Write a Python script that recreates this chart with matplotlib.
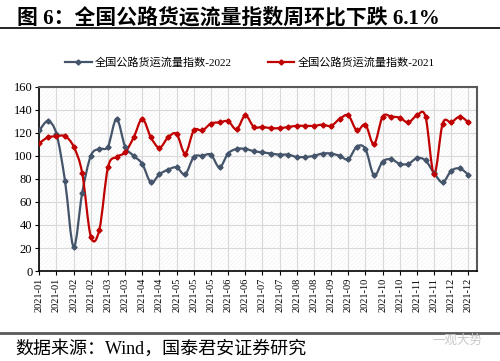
import numpy as np
import matplotlib
matplotlib.use('Agg')
import matplotlib.pyplot as plt
from matplotlib.path import Path
from matplotlib.patches import PathPatch, Rectangle
from matplotlib.lines import Line2D

plt.rcParams['font.family'] = ['Liberation Serif', 'Noto Sans CJK SC', 'DejaVu Sans']

# weekly index values
idx_2022 = [122, 130, 119, 78, 21, 68, 100, 106, 108, 132, 108, 100, 93, 77, 84,
            88, 90, 84, 99, 100, 101, 90, 102, 106, 106, 104, 103, 102, 101, 101,
            99, 99, 100, 102, 102, 100, 97, 108, 106, 83, 95, 97, 93, 93, 98,
            96, 85, 77, 87, 89, 83.6]
idx_2021 = [111, 116, 117, 117, 108, 85, 30, 36, 90, 99, 103, 116, 132, 116, 107,
            116, 119, 102, 122, 122, 128, 129, 130, 123, 135, 125, 125, 124, 124, 125,
            126, 126, 126, 127, 126, 132, 135, 122, 127, 110, 134, 134, 133, 129, 135,
            134, 84, 128, 129, 134, 129]
tick_labels = ['2021-01', '2021-01', '2021-02', '2021-02', '2021-03', '2021-03',
               '2021-04', '2021-04', '2021-05', '2021-05', '2021-05', '2021-06',
               '2021-06', '2021-07', '2021-07', '2021-08', '2021-08', '2021-09',
               '2021-09', '2021-10', '2021-10', '2021-10', '2021-11', '2021-11',
               '2021-12', '2021-12']
names = ['全国公路货运流量指数-2022', '全国公路货运流量指数-2021']
colors = ['#44546A', '#C00000']


def smooth_path(x, y):
    # excel-like smoothed line: cubic bezier through every point
    pts = np.column_stack([x, y]).astype(float)
    n = len(pts)
    verts = [pts[0]]
    codes = [Path.MOVETO]
    for i in range(n - 1):
        p0 = pts[max(i - 1, 0)]
        p1 = pts[i]
        p2 = pts[i + 1]
        p3 = pts[min(i + 2, n - 1)]
        verts += [p1 + (p2 - p0) / 6, p2 - (p3 - p1) / 6, p2]
        codes += [Path.CURVE4] * 3
    return Path(verts, codes)


fig = plt.figure(figsize=(5, 3.61), dpi=100)
ax = fig.add_axes([0.0786, 0.249, 0.8754, 0.511])

x = np.arange(len(idx_2022))
handles = []
for vals, col, name in zip([idx_2022, idx_2021], colors, names):
    ax.add_patch(PathPatch(smooth_path(x, vals), facecolor='none', edgecolor=col,
                           lw=1.6, zorder=3, capstyle='round', joinstyle='round'))
    ax.plot(x, vals, ls='none', marker='D', ms=2.6, color=col, zorder=4)
    handles.append(Line2D([], [], color=col, lw=1.6, marker='D', ms=2.6))

# hatched plot background
plt.rcParams['hatch.linewidth'] = 0.5
ax.add_patch(Rectangle((0, 0), 1, 1, transform=ax.transAxes, facecolor='white',
                       edgecolor='#F2F2F2', hatch='/' * 8, lw=0, zorder=0.1))

ax.set_xlim(0, 51)
ax.set_ylim(0, 160)
ax.set_yticks(range(0, 161, 20))
ax.set_xticks(np.arange(0, 51, 2))
ax.set_xticklabels(tick_labels, rotation=90, fontsize=7.5)
ax.tick_params(axis='y', labelsize=9, length=3, direction='out', pad=2)
ax.tick_params(axis='x', length=3, direction='out', pad=2)
ax.set_axisbelow(True)
ax.grid(True, color='#D9D9D9', lw=0.8, zorder=0.5)
for s in ['left', 'bottom']:
    ax.spines[s].set_color('black')
    ax.spines[s].set_linewidth(1.2)
for s in ['top', 'right']:
    ax.spines[s].set_color('#595959')
    ax.spines[s].set_linewidth(1.5)

fig.legend(handles, names, loc='center', bbox_to_anchor=(0.5, 0.826), ncol=2,
           frameon=False, fontsize=8, handlelength=2.4, columnspacing=3.2,
           handletextpad=0.3)

# title, rules and source note
fig.text(0.034, 0.95, '图 6：全国公路货运流量指数周环比下跌 6.1%', fontsize=15,
         fontweight='bold', va='center', ha='left')
fig.add_artist(Line2D([0, 1], [0.922, 0.922], color='black', lw=1.2))
fig.add_artist(Line2D([0, 1], [0.078, 0.078], color='#595959', lw=2))
fig.text(0.03, 0.033, '数据来源：Wind，国泰君安证券研究', fontsize=13,
         va='center', ha='left')
fig.text(0.965, 0.056, '一观大势', fontsize=9, color='#C8C8C8', va='center', ha='right')

fig.savefig('out.png', dpi=100)
